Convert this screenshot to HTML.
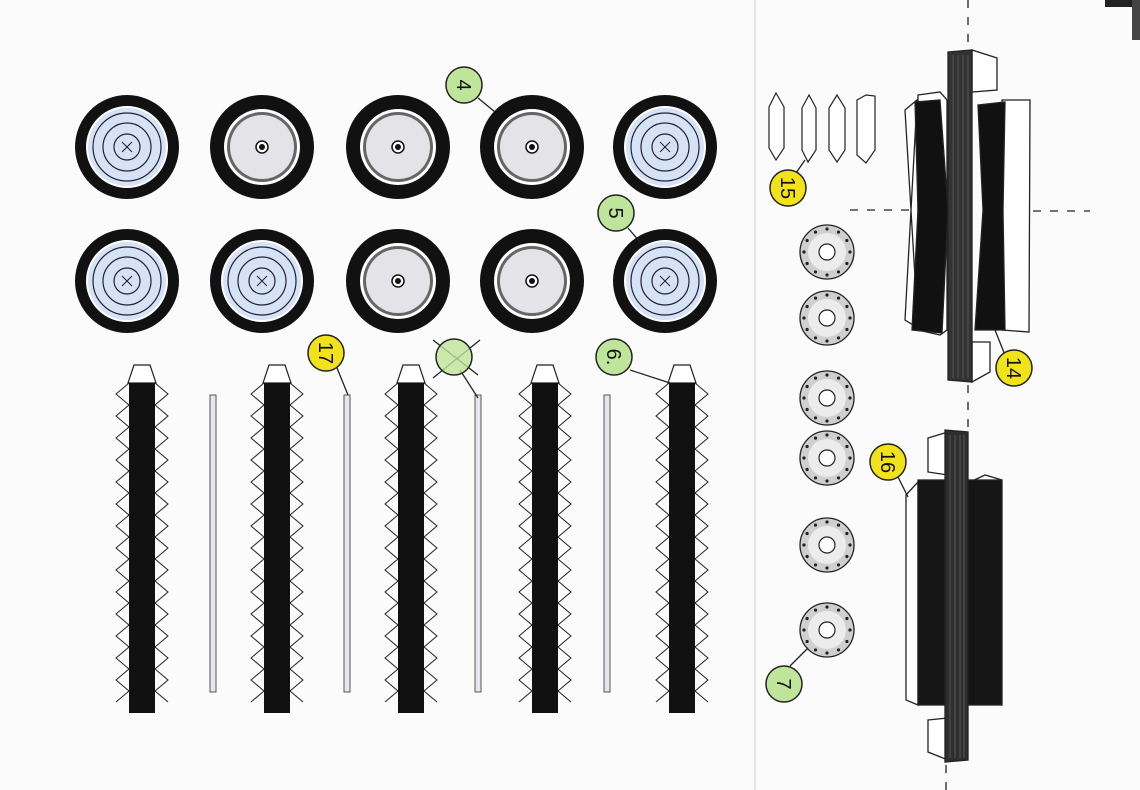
<!DOCTYPE html>
<html><head><meta charset="utf-8"><style>
html,body{margin:0;padding:0;background:#fbfbfb;}
svg{display:block;font-family:"Liberation Sans",sans-serif;}
</style></head><body>
<svg id="s" width="1140" height="790" viewBox="0 0 1140 790" xmlns="http://www.w3.org/2000/svg">
<rect width="1140" height="790" fill="#fbfbfb"/>
<line x1="755" y1="0" x2="755" y2="790" stroke="#e4e4e4" stroke-width="2"/>
<rect x="1105" y="0" width="35" height="7" fill="#222"/>
<rect x="1132" y="0" width="8" height="40" fill="#444"/>
<g id="g"></g>
<g stroke="#222" stroke-width="1.3" stroke-dasharray="8,9" fill="none">
<line x1="850" y1="210" x2="910" y2="210"/>
<line x1="1033" y1="211" x2="1090" y2="211"/>
<line x1="968" y1="0" x2="968" y2="52"/>
<line x1="968" y1="385" x2="968" y2="430"/>
<line x1="946" y1="748" x2="946" y2="790"/>
</g>
<g stroke="#222" stroke-width="1.3">
<polygon points="972,50 997,58 997,90 972,92" fill="#fff"/>
<polygon points="972,342 990,342 990,372 972,382" fill="#fff"/>
<polygon points="905,110 917,100 905,320 918,328" fill="#fff"/>
<polygon points="918,95 940,92 947,100 947,330 940,335 918,330" fill="#fff"/>
<polygon points="1002,100 1030,100 1029,332 1002,330" fill="#fff"/>
<polygon points="915,102 940,100 948,210 942,333 912,330 918,210" fill="#111"/>
<polygon points="978,105 1005,102 1003,210 1005,330 975,330 983,210" fill="#111"/>
<polygon points="948,52 972,50 972,382 948,380" fill="#333"/>
<g stroke="#555" stroke-width="1"><line x1="953" y1="55" x2="953" y2="378"/><line x1="958" y1="55" x2="958" y2="378"/><line x1="963" y1="55" x2="963" y2="378"/><line x1="968" y1="55" x2="968" y2="378"/></g>
</g>
<g stroke="#222" stroke-width="1.3">
<polygon points="928,438 948,432 948,475 928,472" fill="#fff"/>
<polygon points="928,720 948,718 948,760 928,752" fill="#fff"/>
<polygon points="906,495 918,482 918,705 906,700" fill="#fff"/>
<polygon points="970,482 985,475 1002,480 970,485" fill="#fff"/>
<rect x="918" y="480" width="84" height="225" fill="#151515"/>
<polygon points="945,430 968,432 968,760 945,762" fill="#2e2e2e"/>
<g stroke="#555" stroke-width="1"><line x1="950" y1="435" x2="950" y2="758"/><line x1="955" y1="435" x2="955" y2="758"/><line x1="960" y1="435" x2="960" y2="758"/><line x1="964" y1="435" x2="964" y2="758"/></g>
</g>
<g stroke="#222" stroke-width="1.2" fill="#fff">
<polygon points="776,93 769,107 769,148 776,160 784,148 784,107"/>
<polygon points="809,95 802,108 802,150 808,162 816,150 816,108"/>
<polygon points="837,95 829,108 829,150 837,162 845,150 845,108"/>
<polygon points="866,95 857,100 857,155 866,163 875,150 875,96"/>
</g>
<g stroke="#222" stroke-width="1.3">
<line x1="478" y1="98" x2="495" y2="112"/>
<line x1="628" y1="228" x2="640" y2="242"/>
<line x1="337" y1="368" x2="348" y2="395"/>
<line x1="460" y1="370" x2="478" y2="398"/>
<line x1="630" y1="370" x2="670" y2="383"/>
<line x1="796" y1="173" x2="805" y2="160"/>
<line x1="1005" y1="355" x2="995" y2="330"/>
<line x1="898" y1="477" x2="908" y2="497"/>
<line x1="790" y1="666" x2="808" y2="648"/>
<line x1="433" y1="340" x2="478" y2="375"/>
<line x1="480" y1="340" x2="433" y2="378"/>
</g>
<g stroke="#222" stroke-width="1.5">
<circle cx="464" cy="85" r="18" fill="#bfe59a"/>
<circle cx="616" cy="213" r="18" fill="#bfe59a"/>
<circle cx="326" cy="353" r="18" fill="#f2e21a"/>
<circle cx="454" cy="357" r="18" fill="#bfe59a" fill-opacity="0.8"/>
<circle cx="614" cy="357" r="18" fill="#bfe59a"/>
<circle cx="788" cy="188" r="18" fill="#f2e21a"/>
<circle cx="1014" cy="368" r="18" fill="#f2e21a"/>
<circle cx="888" cy="462" r="18" fill="#f2e21a"/>
<circle cx="784" cy="684" r="18" fill="#bfe59a"/>
</g>
<g fill="#111" font-size="20" text-anchor="middle">
<text transform="translate(464,85) rotate(90)" y="7">4</text>
<text transform="translate(616,213) rotate(90)" y="7">5</text>
<text transform="translate(326,353) rotate(90)" y="7">17</text>
<text transform="translate(614,357) rotate(90)" y="7">6.</text>
<text transform="translate(788,188) rotate(90)" y="7">15</text>
<text transform="translate(1014,368) rotate(90)" y="7">14</text>
<text transform="translate(888,462) rotate(90)" y="7">16</text>
<text transform="translate(784,684) rotate(90)" y="7">7</text>
</g>
</svg>
<script>
var NS="http://www.w3.org/2000/svg",g=document.getElementById("g");
function el(t,a){var e=document.createElementNS(NS,t);for(var k in a)e.setAttribute(k,a[k]);g.appendChild(e);return e;}
var rows=[[147,["b","w","w","w","b"]],[281,["b","b","w","w","b"]]],xs=[127,262,398,532,665];
rows.forEach(function(r){r[1].forEach(function(t,i){var x=xs[i],y=r[0];
el("circle",{cx:x,cy:y,r:52,fill:"#111"});
if(t=="b"){el("circle",{cx:x,cy:y,r:40,fill:"#d6e2f5",stroke:"#fff","stroke-width":2});
[34,24,13].forEach(function(rr){el("circle",{cx:x,cy:y,r:rr,fill:"none",stroke:"#223","stroke-width":1.2});});
el("line",{x1:x-5,y1:y-5,x2:x+5,y2:y+5,stroke:"#223"});el("line",{x1:x-5,y1:y+5,x2:x+5,y2:y-5,stroke:"#223"});}
else{el("circle",{cx:x,cy:y,r:38,fill:"#fff"});el("circle",{cx:x,cy:y,r:35,fill:"#666"});el("circle",{cx:x,cy:y,r:32,fill:"#e4e4e8"});
el("circle",{cx:x,cy:y,r:6,fill:"#fff",stroke:"#111","stroke-width":1.5});el("circle",{cx:x,cy:y,r:3,fill:"#111"});}
});});
[142,277,411,545,682].forEach(function(x){
el("polygon",{points:(x-8)+",365 "+(x+8)+",365 "+(x+14)+",383 "+(x-14)+",383",fill:"#fff",stroke:"#222","stroke-width":1.2});
var pl="",pr="";for(var y=383;y<=712;y+=11){var o=((y-383)/11)%2==0;pl+=(o?x-13:x-26)+","+y+" ";pr+=(o?x+13:x+26)+","+y+" ";}
el("polyline",{points:pl,fill:"none",stroke:"#222","stroke-width":1});
el("polyline",{points:pr,fill:"none",stroke:"#222","stroke-width":1});
el("rect",{x:x-13,y:383,width:26,height:330,fill:"#111"});
});
[213,347,478,607].forEach(function(x){el("rect",{x:x-3,y:395,width:6,height:297,fill:"#e6e6ec",stroke:"#555","stroke-width":1});});
[252,318,398,458,545,630].forEach(function(y){var x=827;
el("circle",{cx:x,cy:y,r:27,fill:"#cfcfcf",stroke:"#222","stroke-width":1.3});
el("circle",{cx:x,cy:y,r:19,fill:"#ececec"});
el("circle",{cx:x,cy:y,r:8,fill:"#fff",stroke:"#222","stroke-width":1.2});
for(var a=0;a<12;a++){var t=a*Math.PI/6;el("circle",{cx:x+23*Math.cos(t),cy:y+23*Math.sin(t),r:1.6,fill:"#222"});}
});
</script>
</body></html>
